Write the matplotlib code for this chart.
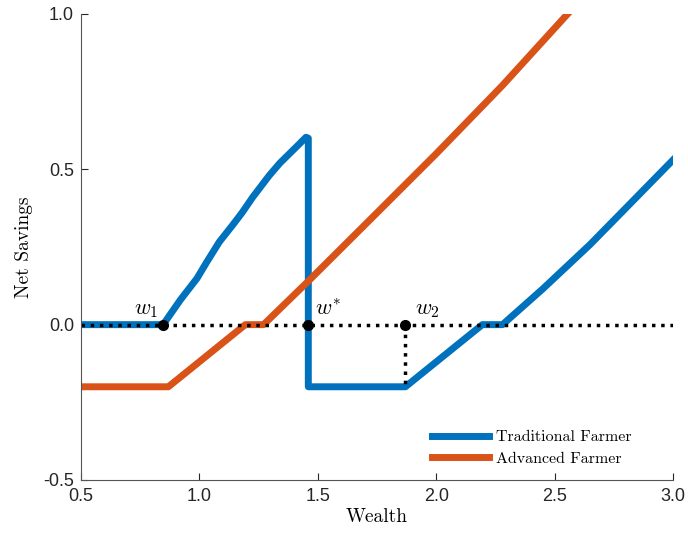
import numpy as np
import matplotlib.pyplot as plt

plt.rcParams['mathtext.fontset'] = 'cm'
plt.rcParams['font.family'] = ['Liberation Sans', 'DejaVu Sans']

# Traditional farmer net savings
trad_x = [0.5, 0.847, 0.92, 0.99, 1.03, 1.084, 1.14, 1.18, 1.225, 1.26, 1.295, 1.34,
          1.38, 1.42, 1.45, 1.46, 1.46, 1.87, 2.195, 2.28, 2.45, 2.65, 2.82, 3.0]
trad_y = [0.0, 0.0, 0.08, 0.149, 0.20, 0.266, 0.32, 0.36, 0.41, 0.445, 0.48, 0.52,
          0.55, 0.58, 0.603, 0.60, -0.2, -0.2, 0.0, 0.0, 0.115, 0.258, 0.39, 0.53]

# Advanced farmer net savings
adv_x = [0.5, 0.869, 1.194, 1.271, 1.46, 1.75, 2.0, 2.28, 2.555]
adv_y = [-0.2, -0.2, 0.0, 0.0, 0.14, 0.36, 0.55, 0.77, 1.0]

# thresholds
w_pts = [0.847, 1.46, 1.87]
w_labels = ['$w_1$', '$w^{*}$', '$w_2$']
w2_floor = -0.2

blue = '#0072BD'
orange = '#D95319'

fig = plt.figure(figsize=(6.88, 5.36), dpi=100)
ax = fig.add_axes([0.1177, 0.1045, 0.8605, 0.8695])

ax.plot(trad_x, trad_y, color=blue, lw=5, solid_joinstyle='round', label='Traditional Farmer')
ax.plot(adv_x, adv_y, color=orange, lw=5, solid_joinstyle='round', label='Advanced Farmer')

ax.plot([0.5, 3.0], [0, 0], color='black', ls=':', lw=2.5)
ax.plot([w_pts[2], w_pts[2]], [0, w2_floor], color='black', ls=':', lw=2.5)
ax.plot(w_pts, [0, 0, 0], 'o', color='black', ms=7)

ax.text(w_pts[0] - 0.02, 0.015, w_labels[0], fontsize=16, ha='right', va='bottom')
ax.text(w_pts[1] + 0.03, 0.015, w_labels[1], fontsize=16, ha='left', va='bottom')
ax.text(w_pts[2] + 0.04, 0.015, w_labels[2], fontsize=16, ha='left', va='bottom')

ax.set_xlim(0.5, 3.0)
ax.set_ylim(-0.5, 1.0)
ax.set_xticks([0.5, 1.0, 1.5, 2.0, 2.5, 3.0])
ax.set_xticklabels(['0.5', '1.0', '1.5', '2.0', '2.5', '3.0'])
ax.set_yticks([-0.5, 0.0, 0.5, 1.0])
ax.set_yticklabels(['-0.5', '0.0', '0.5', '1.0'])
ax.tick_params(direction='in', length=5, labelsize=13, colors='#262626')
ax.tick_params(axis='x', pad=6)
ax.tick_params(axis='y', pad=5)
for s in ['top', 'right']:
    ax.spines[s].set_visible(False)
for s in ['left', 'bottom']:
    ax.spines[s].set_color('#555555')

ax.set_xlabel('Wealth', family='cmr10', fontsize=14, labelpad=2)
ax.set_ylabel('Net Savings', family='cmr10', fontsize=14, labelpad=7)

ax.legend(loc='lower right', frameon=False, prop={'family': 'cmr10', 'size': 11.5},
          handlelength=3.6, handletextpad=0.45, labelspacing=0.45,
          bbox_to_anchor=(0.955, 0.0))

plt.savefig('out.png', dpi=100)
